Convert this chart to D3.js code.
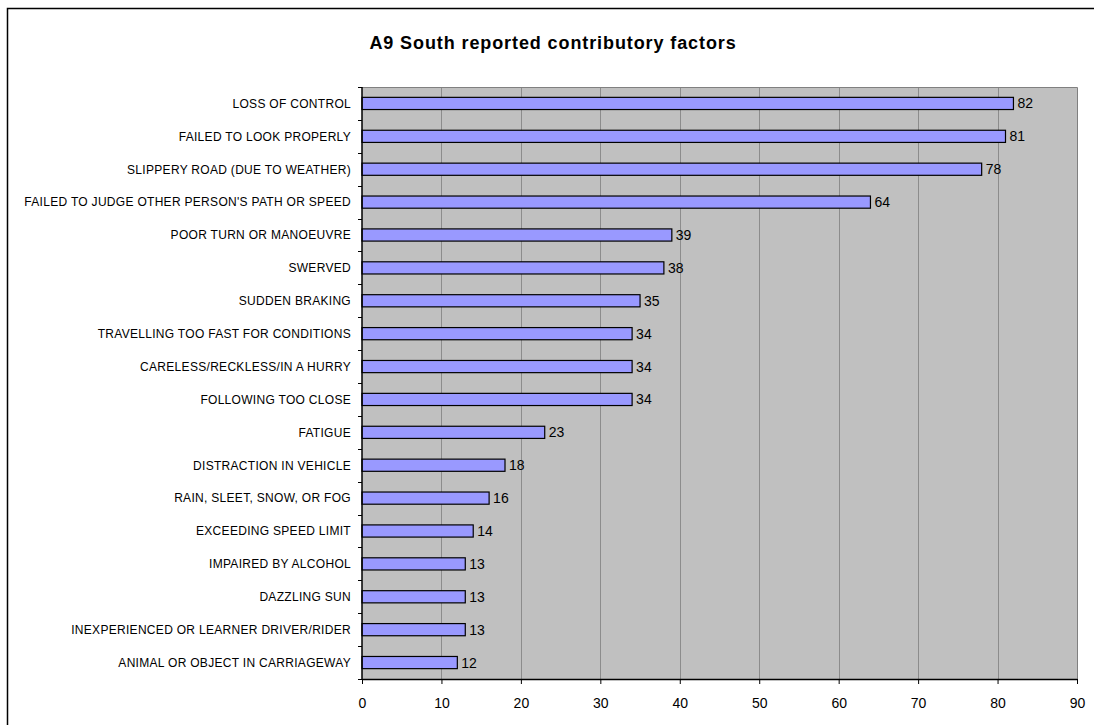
<!DOCTYPE html>
<html>
<head>
<meta charset="utf-8">
<script src="https://cdn.jsdelivr.net/npm/d3@7"></script>
<style>
  html, body { margin: 0; padding: 0; background: #fff; }
  svg { display: block; }
</style>
</head>
<body>
<svg id="chart" width="1094" height="725"></svg>
<script>
// Contributory factors, in the order they are listed from top to bottom
const categories = [
  "LOSS OF CONTROL",
  "FAILED TO LOOK PROPERLY",
  "SLIPPERY ROAD (DUE TO WEATHER)",
  "FAILED TO JUDGE OTHER PERSON'S PATH OR SPEED",
  "POOR TURN OR MANOEUVRE",
  "SWERVED",
  "SUDDEN BRAKING",
  "TRAVELLING TOO FAST FOR CONDITIONS",
  "CARELESS/RECKLESS/IN A HURRY",
  "FOLLOWING TOO CLOSE",
  "FATIGUE",
  "DISTRACTION IN VEHICLE",
  "RAIN, SLEET, SNOW, OR FOG",
  "EXCEEDING SPEED LIMIT",
  "IMPAIRED BY ALCOHOL",
  "DAZZLING SUN",
  "INEXPERIENCED OR LEARNER DRIVER/RIDER",
  "ANIMAL OR OBJECT IN CARRIAGEWAY"
];
const counts = [82, 81, 78, 64, 39, 38, 35, 34, 34, 34, 23, 18, 16, 14, 13, 13, 13, 12];
const xTicks = [0, 10, 20, 30, 40, 50, 60, 70, 80, 90];
const chartTitle = "A9 South reported contributory factors";

const svg = d3.select("#chart");
const font = "Liberation Sans, Arial, sans-serif";

// Outer chart frame
svg.append("rect")
  .attr("x", 7.5).attr("y", 8.5)
  .attr("width", 1100).attr("height", 740)
  .attr("fill", "#fff")
  .attr("stroke", "#000")
  .attr("stroke-width", 1.5);

const plot = { left: 362, top: 87, right: 1077, bottom: 679 };

const x = d3.scaleLinear().domain([0, 90]).range([plot.left, plot.right]);
const y = d3.scaleBand().domain(categories).range([plot.top, plot.bottom]).padding(0);

// Plot background
svg.append("rect")
  .attr("x", plot.left).attr("y", plot.top)
  .attr("width", plot.right - plot.left).attr("height", plot.bottom - plot.top)
  .attr("fill", "#c0c0c0");

// Vertical gridlines
svg.append("g")
  .selectAll("line")
  .data(xTicks.filter(t => t > 0 && t < 90))
  .join("line")
  .attr("x1", d => Math.round(x(d)) + 0.5).attr("x2", d => Math.round(x(d)) + 0.5)
  .attr("y1", plot.top).attr("y2", plot.bottom)
  .attr("stroke", "#8c8c8c").attr("stroke-width", 1);

// Plot border (top and right)
svg.append("path")
  .attr("d", `M${plot.left},${plot.top + 0.5}H${plot.right + 0.5}V${plot.bottom}`)
  .attr("fill", "none")
  .attr("stroke", "#808080").attr("stroke-width", 1);

// Bars
const barH = y.bandwidth() * 0.37;
svg.append("g")
  .selectAll("rect")
  .data(categories)
  .join("rect")
  .attr("x", x(0))
  .attr("y", (d) => y(d) + (y.bandwidth() - barH) / 2)
  .attr("width", (d, i) => x(counts[i]) - x(0))
  .attr("height", barH)
  .attr("fill", "#9999ff")
  .attr("stroke", "#000")
  .attr("stroke-width", 1.2);

// Value labels
svg.append("g")
  .selectAll("text")
  .data(categories)
  .join("text")
  .attr("x", (d, i) => x(counts[i]) + 4)
  .attr("y", (d) => y(d) + y.bandwidth() / 2)
  .attr("dy", "0.36em")
  .attr("font-family", font)
  .attr("font-size", 14)
  .attr("fill", "#000")
  .text((d, i) => counts[i]);

// X axis
const xAxis = d3.axisBottom(x).tickValues(xTicks).tickSize(5).tickPadding(14).tickSizeOuter(0);
const gx = svg.append("g")
  .attr("transform", `translate(0,${plot.bottom})`)
  .call(xAxis);
gx.select(".domain").attr("stroke", "#000").attr("stroke-width", 1.5);
gx.selectAll(".tick line").attr("stroke", "#000");
gx.selectAll(".tick text")
  .attr("font-family", font)
  .attr("font-size", 14)
  .attr("fill", "#000");

// Y axis: ticks sit on band boundaries, labels on band centres
const gy = svg.append("g");
gy.append("line")
  .attr("x1", plot.left).attr("x2", plot.left)
  .attr("y1", plot.top).attr("y2", plot.bottom)
  .attr("stroke", "#000").attr("stroke-width", 1.5);
const boundaries = categories.map(c => y(c)).concat([plot.bottom]);
gy.selectAll("line.tk")
  .data(boundaries)
  .join("line")
  .attr("class", "tk")
  .attr("x1", plot.left - 4).attr("x2", plot.left)
  .attr("y1", d => Math.round(d) + 0.5).attr("y2", d => Math.round(d) + 0.5)
  .attr("stroke", "#000");
gy.selectAll("text")
  .data(categories)
  .join("text")
  .attr("x", 351)
  .attr("y", d => y(d) + y.bandwidth() / 2)
  .attr("dy", "0.36em")
  .attr("text-anchor", "end")
  .attr("font-family", font)
  .attr("font-size", 12)
  .attr("letter-spacing", "0.3px")
  .attr("fill", "#000")
  .text(d => d);

// Title
svg.append("text")
  .attr("x", 553).attr("y", 49)
  .attr("text-anchor", "middle")
  .attr("font-family", font)
  .attr("font-weight", "bold")
  .attr("font-size", 18)
  .attr("letter-spacing", "0.9px")
  .attr("fill", "#000")
  .text(chartTitle);
</script>
</body>
</html>
